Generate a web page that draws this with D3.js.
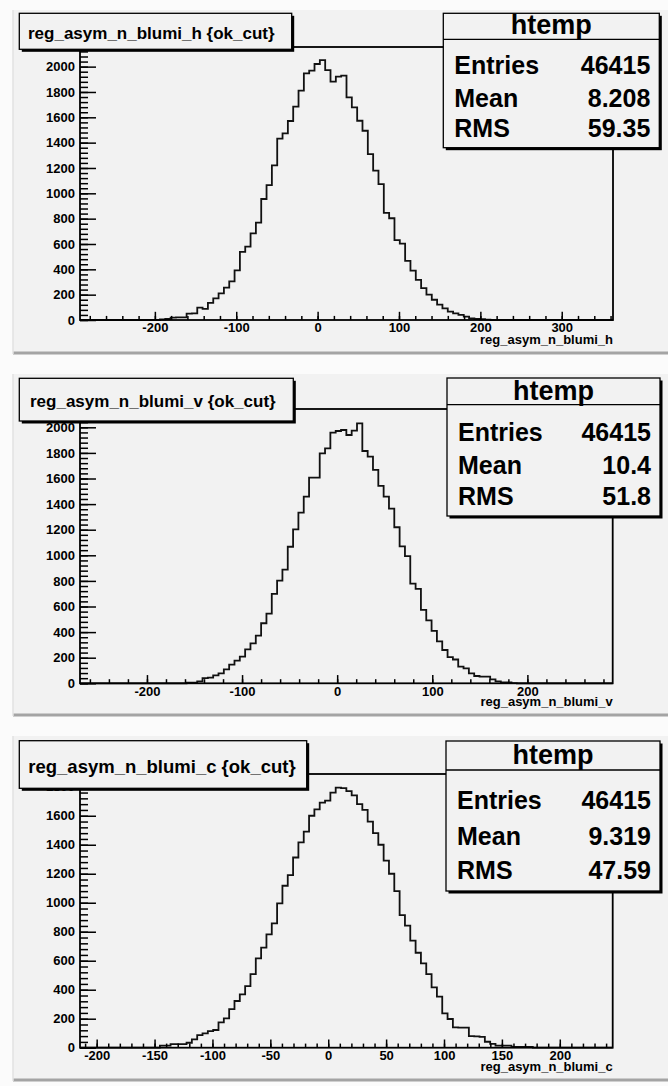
<!DOCTYPE html>
<html>
<head>
<meta charset="utf-8">
<script src="https://cdn.jsdelivr.net/npm/d3@7"></script>
<style>
  body { margin: 0; background: #fbfbfb; }
  svg text { font-family: "Liberation Sans", Arial, Helvetica, sans-serif; font-weight: bold; fill: #000; }
</style>
</head>
<body>
<svg id="chart" width="668" height="1086"></svg>
<script>
// ---- data ----
const varNames = ["reg_asym_n_blumi_h", "reg_asym_n_blumi_v", "reg_asym_n_blumi_c"];
const cutName = "{ok_cut}";
const histName = "htemp";
const statLabels = ["Entries", "Mean", "RMS"];
const statEntries = ["46415", "46415", "46415"];
const statMean = ["8.208", "10.4", "9.319"];
const statRMS = ["59.35", "51.8", "47.59"];
const xLimits = [[-292, 363], [-270.4, 289.7], [-214.4, 245.7]];
const yLimits = [2155, 2143, 1888];
const xMajorStep = [100, 100, 50];
const xMinorStep = [20, 20, 10];
const yMajorStep = 200;
const yMinorStep = 40;

// 100 bins each
const countsH = [
  0, 0, 0, 0, 0, 0, 0, 0, 0, 0,
  0, 0, 0, 0, 0, 5, 8, 18, 20, 20,
  50, 52, 97, 88, 135, 171, 210, 256, 305, 392,
  538, 579, 684, 768, 955, 1064, 1221, 1431, 1473, 1571,
  1684, 1810, 1947, 1968, 2021, 2052, 1973, 1881, 1921, 1929,
  1758, 1679, 1573, 1494, 1310, 1179, 1073, 845, 803, 631,
  603, 466, 390, 316, 252, 200, 160, 122, 92, 66,
  53, 40, 27, 12, 8, 6, 3, 0, 0, 0,
  0, 0, 0, 0, 0, 0, 0, 0, 0, 0,
  0, 0, 0, 0, 0, 0, 0, 0, 0, 0
];
const countsV = [
  0, 0, 0, 0, 0, 0, 0, 0, 0, 0,
  0, 0, 0, 0, 0, 0, 0, 0, 0, 0,
  5, 5, 15, 40, 44, 62, 78, 109, 146, 177,
  208, 265, 312, 372, 469, 545, 698, 802, 888, 1067,
  1203, 1333, 1458, 1607, 1607, 1797, 1836, 1958, 1971, 1979,
  1940, 1974, 2031, 1815, 1771, 1667, 1542, 1458, 1365, 1219,
  1070, 993, 779, 738, 573, 492, 410, 328, 260, 205,
  186, 130, 117, 78, 57, 52, 52, 31, 15, 7,
  7, 2, 0, 0, 0, 0, 0, 0, 0, 0,
  0, 0, 0, 0, 0, 0, 0, 0, 0, 0
];
const countsC = [
  0, 0, 0, 0, 0, 0, 0, 0, 0, 0,
  0, 0, 0, 0, 0, 14, 14, 25, 25, 25,
  34, 57, 87, 99, 115, 122, 175, 202, 266, 322,
  368, 425, 508, 616, 690, 782, 858, 996, 1117, 1191,
  1312, 1416, 1490, 1600, 1644, 1690, 1704, 1759, 1794, 1790,
  1770, 1740, 1680, 1640, 1560, 1480, 1400, 1290, 1200, 1080,
  915, 842, 738, 655, 582, 508, 416, 352, 237, 198,
  140, 138, 138, 80, 78, 75, 41, 26, 14, 14,
  14, 5, 5, 5, 5, 0, 0, 0, 0, 0,
  0, 0, 0, 0, 0, 0, 0, 0, 0, 0
];
const allCounts = [countsH, countsV, countsC];

// ---- layout (pixels) ----
const layout = [
  { pad: [13, 10, 668, 354], frame: { l: 80, r: 613, t: 47, b: 320 },
    title: { x: 19.3, y: 13.3, w: 272.4, h: 36, fs: 17, tx: 28, ty: 39 },
    stats: { x: 443.3, y: 13.3, w: 216, h: 134.4 }, xTitleY: 344 },
  { pad: [13, 374, 668, 716], frame: { l: 80, r: 612.7, t: 409, b: 683.3 },
    title: { x: 19.3, y: 378.3, w: 274, h: 42.7, fs: 17, tx: 30, ty: 406.5 },
    stats: { x: 447, y: 378, w: 213, h: 138 }, xTitleY: 706 },
  { pad: [13, 736, 668, 1081], frame: { l: 80, r: 612.7, t: 774, b: 1047.7 },
    title: { x: 19.3, y: 740.7, w: 287.4, h: 47.6, fs: 18.5, tx: 28.3, ty: 772.5 },
    stats: { x: 446, y: 741, w: 214, h: 150 }, xTitleY: 1071 }
];

const svg = d3.select("#chart");

function shadowBox(g, b) {
  g.append("rect").attr("x", b.x + 2.5).attr("y", b.y + 2.5)
    .attr("width", b.w).attr("height", b.h).attr("fill", "#000");
  g.append("rect").attr("x", b.x).attr("y", b.y)
    .attr("width", b.w).attr("height", b.h)
    .attr("fill", "#f2f2f2").attr("stroke", "#000").attr("stroke-width", 1.3);
}

function drawPanel(i) {
  const L = layout[i], f = L.frame, counts = allCounts[i];
  const [xmin, xmax] = xLimits[i];
  const g = svg.append("g");

  // pad
  const [px0, py0, px1, py1] = L.pad;
  g.append("rect").attr("x", px0).attr("y", py0).attr("width", px1 - px0).attr("height", py1 - py0)
    .attr("fill", "#f2f2f2");
  g.append("line").attr("x1", px0).attr("x2", px1).attr("y1", py1 - 1).attr("y2", py1 - 1)
    .attr("stroke", "#a4a4a4").attr("stroke-width", 3);
  g.append("line").attr("x1", px0).attr("x2", px0).attr("y1", py0).attr("y2", py1)
    .attr("stroke", "#e2e2e2").attr("stroke-width", 1.5);

  const x = d3.scaleLinear().domain([xmin, xmax]).range([f.l, f.r]);
  const y = d3.scaleLinear().domain([0, yLimits[i]]).range([f.b, f.t]);

  // histogram
  const nb = counts.length;
  const edges = d3.range(nb + 1).map(k => xmin + k * (xmax - xmin) / nb);
  const pts = [[x(edges[0]), y(0)]];
  counts.forEach((c, k) => {
    pts.push([x(edges[k]), y(c)]);
    pts.push([x(edges[k + 1]), y(c)]);
  });
  pts.push([x(edges[nb]), y(0)]);
  g.append("path").attr("d", d3.line()(pts))
    .attr("fill", "none").attr("stroke", "#111").attr("stroke-width", 1.8);

  // axes
  const xLen = 0.03 * (f.b - f.t), yLen = 0.03 * (f.r - f.l);
  const xMajor = d3.range(Math.ceil(xmin / xMajorStep[i]) * xMajorStep[i], xmax, xMajorStep[i]);
  const xMinor = d3.range(Math.ceil(xmin / xMinorStep[i]) * xMinorStep[i], xmax, xMinorStep[i]);
  const yMajor = d3.range(0, yLimits[i], yMajorStep);
  const yMinor = d3.range(0, yLimits[i], yMinorStep);

  const gxMinor = g.append("g").attr("transform", `translate(0,${f.b})`)
    .call(d3.axisBottom(x).tickValues(xMinor).tickSize(-xLen / 2).tickSizeOuter(0).tickFormat(""));
  const gx = g.append("g").attr("transform", `translate(0,${f.b})`)
    .call(d3.axisBottom(x).tickValues(xMajor).tickSize(-xLen).tickSizeOuter(0).tickPadding(3)
      .tickFormat(d => String(d)));
  const gyMinor = g.append("g").attr("transform", `translate(${f.l},0)`)
    .call(d3.axisLeft(y).tickValues(yMinor).tickSize(-yLen / 2).tickSizeOuter(0).tickFormat(""));
  const gy = g.append("g").attr("transform", `translate(${f.l},0)`)
    .call(d3.axisLeft(y).tickValues(yMajor).tickSize(-yLen).tickSizeOuter(0).tickPadding(5)
      .tickFormat(d => String(d)));
  [gxMinor, gx, gyMinor, gy].forEach(a => {
    a.select(".domain").remove();
    a.selectAll("line").attr("stroke", "#000").attr("stroke-width", 1.5);
    a.selectAll("text").attr("font-size", 13).attr("font-family", null);
  });

  // frame
  g.append("rect").attr("x", f.l).attr("y", f.t).attr("width", f.r - f.l).attr("height", f.b - f.t)
    .attr("fill", "none").attr("stroke", "#000").attr("stroke-width", 1.8);

  // x axis title
  g.append("text").attr("x", f.r).attr("y", L.xTitleY).attr("text-anchor", "end")
    .attr("font-size", 13).text(varNames[i]);

  // title box
  const t = L.title;
  shadowBox(g, t);
  g.append("text").attr("x", t.tx).attr("y", t.ty).attr("font-size", t.fs)
    .text(`${varNames[i]} ${cutName}`);

  // stats box
  const s = L.stats, k = s.h / 134.4;
  shadowBox(g, s);
  g.append("line").attr("x1", s.x).attr("x2", s.x + s.w)
    .attr("y1", s.y + 26 * k).attr("y2", s.y + 26 * k).attr("stroke", "#000").attr("stroke-width", 1.3);
  g.append("text").attr("x", s.x + s.w / 2).attr("y", s.y + 21 * k).attr("text-anchor", "middle")
    .attr("font-size", 27).text(histName);
  const vals = [statEntries[i], statMean[i], statRMS[i]];
  const rowY = [61, 93.5, 124];
  statLabels.forEach((lab, r) => {
    g.append("text").attr("x", s.x + 11).attr("y", s.y + rowY[r] * k)
      .attr("font-size", 25).text(lab);
    g.append("text").attr("x", s.x + s.w - 9).attr("y", s.y + rowY[r] * k)
      .attr("text-anchor", "end").attr("font-size", 25).text(vals[r]);
  });
}

[0, 1, 2].forEach(drawPanel);
</script>
</body>
</html>
